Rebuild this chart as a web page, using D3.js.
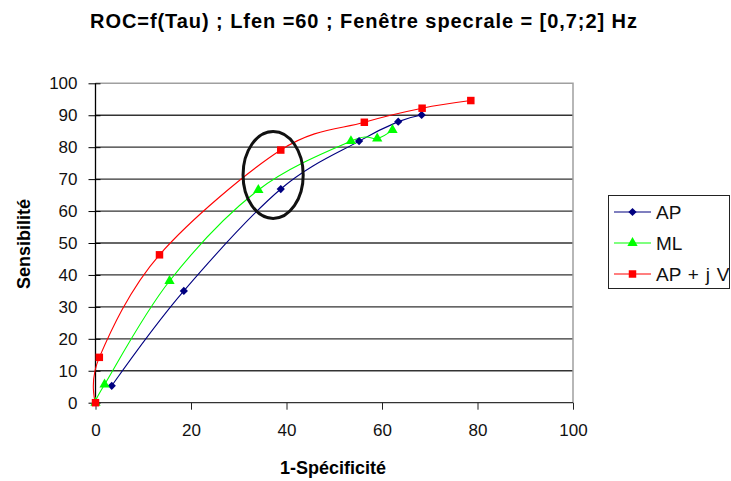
<!DOCTYPE html>
<html>
<head>
<meta charset="utf-8">
<script src="https://cdn.jsdelivr.net/npm/d3@7"></script>
<style>
  html, body { margin: 0; padding: 0; background: #fff; }
  svg { display: block; font-family: "Liberation Sans", Arial, sans-serif; }
</style>
</head>
<body>
<svg id="chart" width="731" height="481"></svg>
<script>
// ---- data ----
const title = "ROC=f(Tau) ; Lfen =60 ; Fenêtre specrale = [0,7;2] Hz";
const xTitle = "1-Spécificité";
const yTitle = "Sensibilité";
const xTicks = [0, 20, 40, 60, 80, 100];
const yTicks = [0, 10, 20, 30, 40, 50, 60, 70, 80, 90, 100];
const seriesNames = ["AP", "ML", "AP + j V"];
const apX = [3.4, 18.5, 38.8, 55.2, 63.4, 68.3];
const apY = [5.3, 35.0, 66.9, 81.9, 88.0, 90.1];
const mlX = [0, 1.9, 15.5, 34.1, 53.5, 59.0, 62.2];
const mlY = [0, 5.7, 38.1, 66.6, 81.9, 82.7, 85.4];
const apjvX = [0, 0.8, 13.4, 38.8, 56.3, 68.4, 78.6];
const apjvY = [0, 14.2, 46.3, 79.1, 87.8, 92.2, 94.6];
// annotation ellipse (data units): center x, center y, radius x, radius y
const ellipse = [37.2, 71.3, 6.3, 13.6];

const colors = ["#000080", "#00ff00", "#ff0000"];
const symbols = [d3.symbolSquare, d3.symbolTriangle, d3.symbolSquare];
const symSizes = [34, 46, 56];
const symRot = [45, 0, 0];

const series = [
  { name: seriesNames[0], pts: apX.map((x, i) => [x, apY[i]]) },
  { name: seriesNames[1], pts: mlX.map((x, i) => [x, mlY[i]]) },
  { name: seriesNames[2], pts: apjvX.map((x, i) => [x, apjvY[i]]) }
];

const svg = d3.select("#chart");
const pL = 95.5, pR = 573, pT = 83.3, pB = 402.7;
const x = d3.scaleLinear().domain([0, 100]).range([pL, pR]);
const y = d3.scaleLinear().domain([0, 100]).range([pB, pT]);

// gridlines
svg.append("g").selectAll("line").data(yTicks.filter(t => t > 0 && t < 100)).join("line")
  .attr("x1", pL).attr("x2", pR)
  .attr("y1", d => y(d)).attr("y2", d => y(d))
  .attr("stroke", "#333").attr("stroke-width", 1.3);

// plot border (top/right)
svg.append("path")
  .attr("d", `M${pL},${pT}H${pR}V${pB}`)
  .attr("fill", "none").attr("stroke", "#a0a0a0").attr("stroke-width", 1.5);

// x axis
const xAxis = d3.axisBottom(x).tickValues(xTicks).tickSize(7).tickPadding(14).tickFormat(d3.format("d"));
const gx = svg.append("g").attr("transform", `translate(0,${pB})`).call(xAxis);
gx.select(".domain").attr("stroke", "#333").attr("stroke-width", 1.3).attr("d", `M${pL},0H${pR}`);
gx.selectAll(".tick line").attr("stroke", "#222");
gx.selectAll(".tick text").attr("font-size", 17).attr("fill", "#111")
  .attr("font-family", "'Liberation Sans', Arial, sans-serif");

// y axis
const yAxis = d3.axisLeft(y).tickValues(yTicks).tickSize(7).tickPadding(11).tickFormat(d3.format("d"));
const gy = svg.append("g").attr("transform", `translate(${pL},0)`).call(yAxis);
gy.select(".domain").attr("stroke", "#000").attr("stroke-width", 1.3).attr("d", `M0,${pT}V${pB}`);
gy.selectAll(".tick line").attr("stroke", "#000").attr("x1", 5);
gy.selectAll(".tick text").attr("font-size", 17).attr("fill", "#111")
  .attr("font-family", "'Liberation Sans', Arial, sans-serif");

// lines
const line = d3.line().x(d => x(d[0])).y(d => y(d[1])).curve(d3.curveCatmullRom.alpha(0));
series.forEach((s, i) => {
  svg.append("path").datum(s.pts)
    .attr("d", line).attr("fill", "none")
    .attr("stroke", colors[i]).attr("stroke-width", 1.1);
});
series.forEach((s, i) => {
  svg.append("g").selectAll("path").data(s.pts).join("path")
    .attr("transform", d => `translate(${x(d[0])},${y(d[1])}) rotate(${symRot[i]})`)
    .attr("d", d3.symbol().type(symbols[i]).size(symSizes[i]))
    .attr("fill", colors[i]);
});

// annotation ellipse
svg.append("ellipse")
  .attr("cx", x(ellipse[0])).attr("cy", y(ellipse[1]))
  .attr("rx", x(ellipse[2]) - x(0)).attr("ry", y(0) - y(ellipse[3]))
  .attr("fill", "none").attr("stroke", "#111").attr("stroke-width", 3);

// title
svg.append("text").attr("x", 363.5).attr("y", 28).attr("text-anchor", "middle")
  .attr("font-size", 20).attr("font-weight", "bold")
  .attr("textLength", 547).attr("lengthAdjust", "spacing").text(title);

// axis titles
svg.append("text").attr("x", 333).attr("y", 474).attr("text-anchor", "middle")
  .attr("font-size", 18).attr("font-weight", "bold").text(xTitle);
svg.append("text").attr("transform", "translate(30,244) rotate(-90)").attr("text-anchor", "middle")
  .attr("font-size", 18).attr("font-weight", "bold").text(yTitle);

// legend
const lg = svg.append("g");
lg.append("rect").attr("x", 608.5).attr("y", 195.5).attr("width", 121).attr("height", 93)
  .attr("fill", "#fff").attr("stroke", "#222").attr("stroke-width", 1);
const ly = [212, 243, 274];
seriesNames.forEach((n, i) => {
  lg.append("line").attr("x1", 614).attr("x2", 651).attr("y1", ly[i]).attr("y2", ly[i])
    .attr("stroke", colors[i]).attr("stroke-width", 1.1);
  lg.append("path").attr("transform", `translate(632.5,${ly[i]}) rotate(${symRot[i]})`)
    .attr("d", d3.symbol().type(symbols[i]).size(symSizes[i])).attr("fill", colors[i]);
  lg.append("text").attr("x", 656).attr("y", ly[i] + 7).attr("font-size", 19)
    .attr("word-spacing", 1.5).attr("fill", "#111").text(n);
});
</script>
</body>
</html>
